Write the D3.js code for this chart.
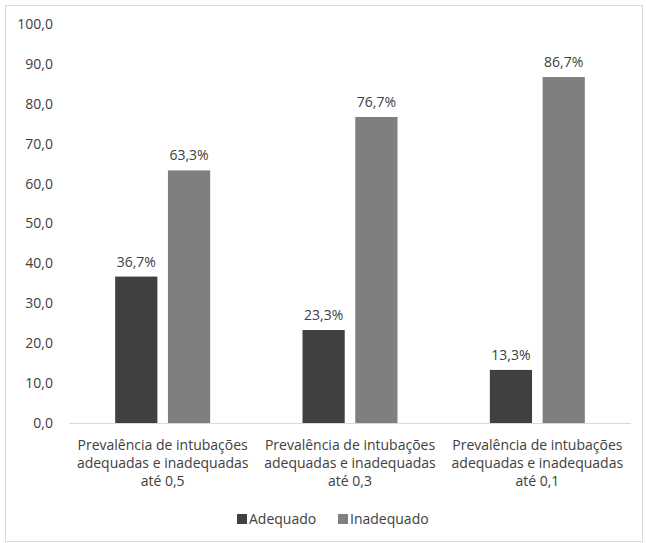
<!DOCTYPE html>
<html>
<head>
<meta charset="utf-8">
<script src="https://cdn.jsdelivr.net/npm/d3@7"></script>
<style>
  body { margin: 0; background: #fff; }
  svg text { font-family: "Open Sans", "Noto Sans", sans-serif; fill: #404040; }
</style>
</head>
<body>
<svg id="chart" width="646" height="543"></svg>
<script>
// data
var categories = [
    ["Prevalência de intubações", "adequadas e inadequadas", "até 0,5"],
    ["Prevalência de intubações", "adequadas e inadequadas", "até 0,3"],
    ["Prevalência de intubações", "adequadas e inadequadas", "até 0,1"]
];
var seriesNames = ["Adequado", "Inadequado"];
var adequado = [36.7, 23.3, 13.3];
var inadequado = [63.3, 76.7, 86.7];
var yTicks = [0, 10, 20, 30, 40, 50, 60, 70, 80, 90, 100];

var colors = ["#404040", "#7f7f7f"];
var svg = d3.select("#chart");

// chart border
svg.append("rect")
    .attr("x", 5.5).attr("y", 5.5)
    .attr("width", 637).attr("height", 536)
    .attr("fill", "none").attr("stroke", "#d9d9d9");

var plot = { left: 69, right: 631, top: 24, bottom: 423 };

var x0 = d3.scaleBand()
    .domain(d3.range(categories.length))
    .range([plot.left, plot.right]);

var x1 = d3.scaleBand()
    .domain([0, 1])
    .range([0, x0.bandwidth()])
    .paddingInner(0.2)
    .paddingOuter(0.875);

var y = d3.scaleLinear().domain([0, 100]).range([plot.bottom, plot.top]);

var fmt = function(v) { return d3.format(".1f")(v).replace(".", ","); };

// y axis labels (no line, no gridlines)
svg.append("g").selectAll("text")
    .data(yTicks)
    .enter().append("text")
    .attr("x", 53)
    .attr("y", function(d) { return y(d); })
    .attr("dy", "0.35em")
    .attr("text-anchor", "end")
    .style("font-size", "14px")
    .text(fmt);

// bars
var rows = categories.map(function(c, i) { return [adequado[i], inadequado[i]]; });

var groups = svg.append("g").selectAll("g")
    .data(rows)
    .enter().append("g")
    .attr("transform", function(d, i) { return "translate(" + x0(i) + ",0)"; });

groups.selectAll("rect")
    .data(function(d) { return d; })
    .enter().append("rect")
    .attr("x", function(d, j) { return x1(j); })
    .attr("y", function(d) { return y(d); })
    .attr("width", x1.bandwidth())
    .attr("height", function(d) { return y(0) - y(d); })
    .attr("fill", function(d, j) { return colors[j]; });

groups.selectAll("text")
    .data(function(d) { return d; })
    .enter().append("text")
    .attr("x", function(d, j) { return x1(j) + x1.bandwidth() / 2; })
    .attr("y", function(d) { return y(d) - 10; })
    .attr("text-anchor", "middle")
    .style("font-size", "14px")
    .text(function(d) { return fmt(d) + "%"; });

// baseline
svg.append("line")
    .attr("x1", plot.left).attr("x2", plot.right)
    .attr("y1", y(0) + 0.5).attr("y2", y(0) + 0.5)
    .attr("stroke", "#d9d9d9");

// category labels
var cat = svg.append("g").selectAll("text")
    .data(categories)
    .enter().append("text")
    .attr("x", function(d, i) { return x0(i) + x0.bandwidth() / 2; })
    .attr("y", 450)
    .attr("text-anchor", "middle")
    .style("font-size", "14px");

cat.selectAll("tspan")
    .data(function(d) { return d; })
    .enter().append("tspan")
    .attr("x", function() { return d3.select(this.parentNode).attr("x"); })
    .attr("dy", function(d, k) { return k === 0 ? 0 : 18; })
    .text(function(d) { return d; });

// legend
var legend = svg.append("g").attr("transform", "translate(237,519)");
var legX = [0, 101];
seriesNames.forEach(function(name, j) {
    legend.append("rect")
        .attr("x", legX[j]).attr("y", -5)
        .attr("width", 10).attr("height", 10)
        .attr("fill", colors[j]);
    legend.append("text")
        .attr("x", legX[j] + 12).attr("y", 0)
        .attr("dy", "0.35em")
        .style("font-size", "14px")
        .text(name);
});
</script>
</body>
</html>
